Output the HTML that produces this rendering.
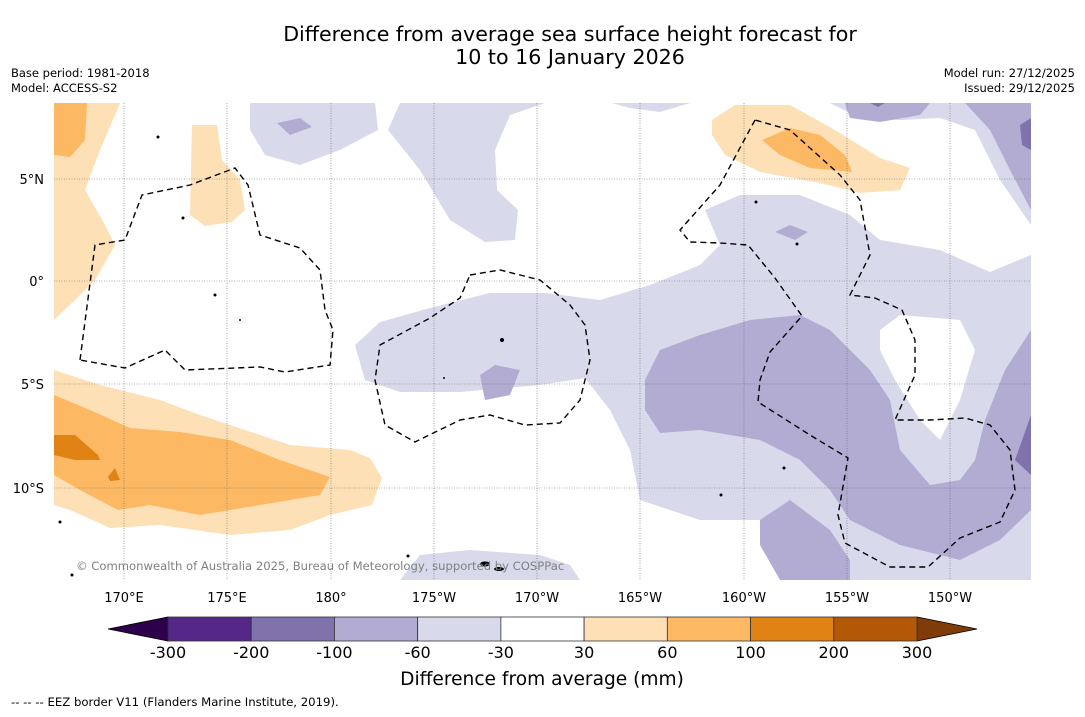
<!DOCTYPE html>
<html><head><meta charset="utf-8"><style>
body{margin:0;background:#fff;width:1085px;height:713px;overflow:hidden;font-family:"DejaVu Sans","Liberation Sans",sans-serif}
</style></head><body>
<svg id="chart" width="1085" height="713" xmlns="http://www.w3.org/2000/svg" font-family="DejaVu Sans, Liberation Sans, sans-serif">
<text x="570" y="41" font-size="20.6" text-anchor="middle">Difference from average sea surface height forecast for</text>
<text x="570" y="64" font-size="20.6" text-anchor="middle">10 to 16 January 2026</text>
<text x="11" y="77" font-size="11.5">Base period: 1981-2018</text>
<text x="11" y="92" font-size="11.5">Model: ACCESS-S2</text>
<text x="1075" y="77" font-size="11.5" text-anchor="end">Model run: 27/12/2025</text>
<text x="1075" y="92" font-size="11.5" text-anchor="end">Issued: 29/12/2025</text>
<defs><clipPath id="mc"><rect x="54" y="103" width="977" height="477"/></clipPath></defs>
<g clip-path="url(#mc)">
<rect x="54" y="103" width="977" height="477" fill="#fff"/>
<g fill="#d8daeb">
<polygon points="250,103 375,103 378,130 340,150 300,165 265,155 250,130"/>
<polygon points="400,103 545,103 510,115 495,150 497,190 518,210 515,240 485,242 450,220 420,170 388,130"/>
<polygon points="612,103 690,103 660,112 630,108"/>
<polygon points="830,103 1031,103 1031,225 1000,180 975,130 940,118 900,120 860,118"/>
<polygon points="355,345 380,322 430,308 490,293 545,293 600,300 650,285 700,265 720,245 705,210 740,195 800,195 850,215 880,240 940,250 990,272 1031,255 1031,580 850,580 830,555 790,520 700,520 640,500 630,450 610,410 585,378 540,385 460,392 400,392 365,380"/>
<polygon points="400,580 420,555 470,550 540,555 570,565 580,580"/>
</g>
<polygon fill="#fff" points="880,330 900,315 960,320 975,350 960,400 940,440 920,420 895,380 880,350"/>
<g fill="#b2abd2">
<polygon points="645,380 660,350 700,335 750,320 800,315 830,330 870,370 890,400 900,450 930,485 960,480 975,460 985,420 1005,370 1031,330 1031,510 1000,540 960,560 900,545 850,520 830,490 800,460 760,440 700,430 660,433 645,410"/>
<polygon points="760,520 790,500 830,530 850,560 850,580 780,580 760,545"/>
<polygon points="845,103 930,103 920,115 880,122 850,118"/>
<polygon points="965,103 1031,103 1031,210 1010,170 990,130"/>
<polygon points="480,375 495,365 520,370 510,395 485,400"/>
<polygon points="775,232 790,225 808,232 795,240"/>
<polygon points="277,123 300,118 312,127 290,135"/>
</g>
<g fill="#8073ac">
<polygon points="1020,125 1031,118 1031,150 1022,145"/>
<polygon points="1015,460 1031,415 1031,475"/>
<polygon points="870,103 885,103 878,107"/>
</g>
<g fill="#fee0b6">
<polygon points="54,103 120,103 100,150 85,190 105,225 115,245 95,280 75,300 54,320"/>
<polygon points="192,125 217,125 222,160 240,180 245,210 232,222 205,226 190,215"/>
<polygon points="712,120 735,105 790,105 835,130 880,158 910,168 900,190 860,193 820,183 760,172 725,155 712,135"/>
<polygon points="54,370 100,385 160,400 200,415 290,445 350,450 370,458 382,478 372,505 330,515 290,530 230,535 160,525 110,528 70,510 54,505"/>
</g>
<g fill="#fdb863">
<polygon points="54,103 87,103 85,140 70,157 54,155"/>
<polygon points="762,140 790,128 820,135 845,155 852,172 810,168 780,155"/>
<polygon points="54,395 90,410 130,428 180,432 230,440 280,460 330,477 320,495 260,505 200,515 150,505 118,510 80,490 54,475"/>
</g>
<g fill="#e08214">
<polygon points="54,435 75,435 98,455 100,460 75,460 54,455"/>
<polygon points="108,477 115,468 120,480 110,481"/>
</g>
<g stroke="#666" stroke-width="0.6" stroke-dasharray="1,1.5">
<line x1="124" y1="103" x2="124" y2="580"/><line x1="227" y1="103" x2="227" y2="580"/><line x1="331" y1="103" x2="331" y2="580"/><line x1="434" y1="103" x2="434" y2="580"/><line x1="537" y1="103" x2="537" y2="580"/><line x1="640" y1="103" x2="640" y2="580"/><line x1="744" y1="103" x2="744" y2="580"/><line x1="847" y1="103" x2="847" y2="580"/><line x1="950" y1="103" x2="950" y2="580"/>
<line x1="54" y1="179" x2="1031" y2="179"/><line x1="54" y1="281" x2="1031" y2="281"/><line x1="54" y1="384" x2="1031" y2="384"/><line x1="54" y1="488" x2="1031" y2="488"/>
</g>
<g fill="none" stroke="#000" stroke-width="1.4" stroke-dasharray="6,4">
<polygon points="80,360 95,245 125,240 142,195 190,185 235,168 248,185 260,235 300,248 320,270 325,310 333,330 330,365 285,372 260,367 185,370 165,350 125,368"/>
<polygon points="470,275 500,270 540,280 570,305 585,325 590,360 580,400 560,423 525,425 490,415 460,420 415,442 385,425 375,380 380,345 430,318 460,298"/>
<polygon points="755,120 720,185 680,230 690,242 720,243 748,245 775,278 802,316 770,352 760,380 758,402 810,435 848,458 838,515 845,543 890,567 928,567 960,538 1000,522 1015,490 1010,450 990,425 965,418 930,420 895,420 915,375 915,340 902,310 875,298 850,295 870,255 860,200 840,175 790,130"/>
</g>
<g fill="#000">
<circle cx="502" cy="340" r="2"/><circle cx="183" cy="218" r="1.5"/><circle cx="215" cy="295" r="1.5"/><circle cx="158" cy="137" r="1.5"/><circle cx="797" cy="244" r="1.5"/><circle cx="756" cy="202" r="1.5"/><circle cx="784" cy="468" r="1.5"/><circle cx="721" cy="495" r="1.5"/><circle cx="60" cy="522" r="1.5"/><circle cx="72" cy="575" r="1.5"/><ellipse cx="485" cy="564" rx="5" ry="2.5"/><ellipse cx="499" cy="569" rx="5" ry="2"/><circle cx="408" cy="556" r="1.5"/><circle cx="444" cy="378" r="1"/><circle cx="240" cy="320" r="1"/>
</g>
<text x="76" y="570" font-size="11.6" fill="#808080">© Commonwealth of Australia 2025, Bureau of Meteorology, supported by COSPPac</text>
</g>
<g font-size="13">
<text x="44" y="184" text-anchor="end">5°N</text><text x="44" y="286" text-anchor="end">0°</text><text x="44" y="389" text-anchor="end">5°S</text><text x="44" y="493" text-anchor="end">10°S</text>
</g>
<g font-size="13" text-anchor="middle">
<text x="124" y="602">170°E</text><text x="227" y="602">175°E</text><text x="331" y="602">180°</text><text x="434" y="602">175°W</text><text x="537" y="602">170°W</text><text x="640" y="602">165°W</text><text x="744" y="602">160°W</text><text x="847" y="602">155°W</text><text x="950" y="602">150°W</text>
</g>
<g id="cbar"></g>
<text x="542" y="685" font-size="18.6" text-anchor="middle">Difference from average (mm)</text>
<text x="11" y="706" font-size="11.7">--  --  -- EEZ border V11 (Flanders Marine Institute, 2019).</text>
</svg>
<script>
const levels = ["-300","-200","-100","-60","-30","30","60","100","200","300"];
const binColors = ["#542788","#8073ac","#b2abd2","#d8daeb","#ffffff","#fee0b6","#fdb863","#e08214","#b35806"];
const extColors = ["#2d004b","#7f3b08"];
const NS="http://www.w3.org/2000/svg";
const g=document.getElementById('cbar');
const x0=168,x1=917,y0=617,h=24;
const bw=(x1-x0)/binColors.length;
function xAt(i){return x0+i*bw;}
function mk(t,a){const e=document.createElementNS(NS,t);for(const k in a)e.setAttribute(k,a[k]);g.appendChild(e);return e;}
let lt=mk('polygon',{points:`${x0},${y0} ${x0},${y0+h} 108,${y0+h/2}`,fill:extColors[0],stroke:'#000','stroke-width':0.8});


let rt=mk('polygon',{points:`${x1},${y0} ${x1},${y0+h} 977,${y0+h/2}`,fill:extColors[1],stroke:'#000','stroke-width':0.8});


binColors.forEach((c,i)=>{
  const r=mk('rect',{x:xAt(i),y:y0,width:bw,height:h,fill:c,stroke:'#333','stroke-width':0.8});
  
  
});
levels.forEach((l,i)=>{
  const t=mk('text',{x:xAt(i),y:658,'font-size':16,'text-anchor':'middle'});
  t.textContent=l;
  
  
});
</script>
</body></html>
